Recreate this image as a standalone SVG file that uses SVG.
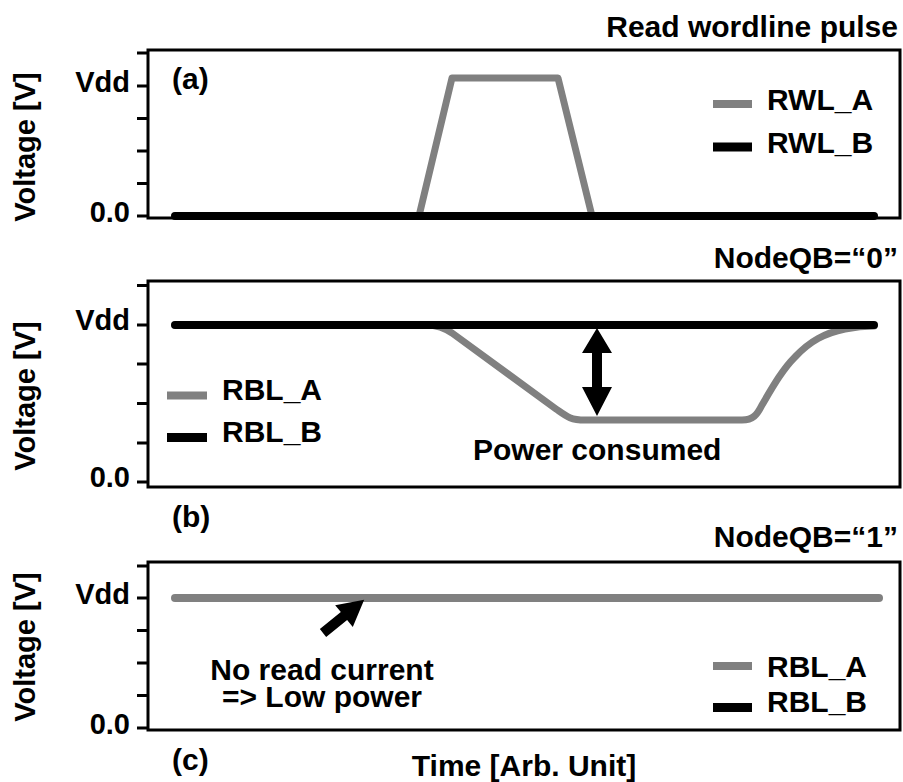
<svg xmlns="http://www.w3.org/2000/svg" width="903" height="782" viewBox="0 0 903 782">
  <style>
    text { font-family: "Liberation Sans", Arial, sans-serif; font-weight: bold; font-size: 30px; fill: #000; }
    .ylab { font-size: 29px; }
    .tick { font-size: 29px; text-anchor: end; }
    .title { text-anchor: end; }
    .frame { fill: none; stroke: #000; stroke-width: 3; }
    .ticks { stroke: #000; stroke-width: 3; fill: none; }
    .sigA { fill: none; stroke: #808080; stroke-width: 7; stroke-linecap: round; stroke-linejoin: round; }
    .sigB { fill: none; stroke: #000; stroke-width: 8; stroke-linecap: round; stroke-linejoin: round; }
    .legA { stroke: #808080; stroke-width: 8; }
    .legB { stroke: #000; stroke-width: 9; }
  </style>

  <!-- Panel (a): read wordline pulse -->
  <g id="panel-a">
    <text class="title" x="898" y="37">Read wordline pulse</text>
    <rect class="frame" x="148" y="50" width="752" height="168"/>
    <path class="ticks" d="M137,53H148M137,86H148M137,118.5H148M137,151H148M137,183.5H148M137,216H148"/>
    <text class="tick" x="130" y="92">Vdd</text>
    <text class="tick" x="130" y="222">0.0</text>
    <text class="ylab" transform="translate(35,147) rotate(-90)" text-anchor="middle">Voltage [V]</text>
    <text x="172" y="89">(a)</text>
    <path class="sigA" d="M175,216 L419,216 L452,78 L558,78 L592,216 L874,216"/>
    <path class="sigB" d="M175,216 L874,216"/>
    <line class="legA" x1="713" y1="104" x2="752" y2="104"/>
    <text x="767" y="110">RWL_A</text>
    <line class="legB" x1="713" y1="147" x2="752" y2="147"/>
    <text x="767" y="153">RWL_B</text>
  </g>

  <!-- Panel (b): NodeQB = 0, bitline discharges -->
  <g id="panel-b">
    <text class="title" x="898" y="268">NodeQB=“0”</text>
    <rect class="frame" x="148" y="281" width="752" height="206"/>
    <path class="ticks" d="M137,285.5H148M137,325H148M137,364H148M137,403.5H148M137,443H148M137,482H148"/>
    <text class="tick" x="130" y="330">Vdd</text>
    <text class="tick" x="130" y="487">0.0</text>
    <text class="ylab" transform="translate(35,396) rotate(-90)" text-anchor="middle">Voltage [V]</text>
    <text x="172" y="527">(b)</text>
    <path class="sigA" d="M175,325 L425,325 C438,325 444,328 452,333 L556,409 C566,416 570,420 585,420 L742,420 C753,420 757,415 762,405 C772,388 782,370 795,357 C810,341 825,333 845,329 C855,327 865,326 874,326"/>
    <path class="sigB" d="M175,325 L874,325"/>
    <line class="legA" x1="167" y1="395.5" x2="207" y2="395.5"/>
    <text x="222" y="400">RBL_A</text>
    <line class="legB" x1="167" y1="437.5" x2="207" y2="437.5"/>
    <text x="222" y="442">RBL_B</text>
    <text x="473" y="460">Power consumed</text>
  </g>

  <!-- Panel (c): NodeQB = 1, bitline stays high -->
  <g id="panel-c">
    <text class="title" x="898" y="547">NodeQB=“1”</text>
    <rect class="frame" x="148" y="562" width="752" height="168"/>
    <path class="ticks" d="M137,566H148M137,598H148M137,630.5H148M137,663H148M137,695.5H148M137,728H148"/>
    <text class="tick" x="130" y="604">Vdd</text>
    <text class="tick" x="130" y="734">0.0</text>
    <text class="ylab" transform="translate(35,647) rotate(-90)" text-anchor="middle">Voltage [V]</text>
    <text x="172" y="770">(c)</text>
    <!-- RBL_B sits exactly under RBL_A here -->
    <path class="sigB" d="M176,598 L878,598" style="stroke-width:4"/>
    <path class="sigA" d="M175,598 L879,598" style="stroke-width:8"/>
    <line class="legA" x1="713" y1="666" x2="752" y2="666"/>
    <text x="767" y="677">RBL_A</text>
    <line class="legB" x1="713" y1="707.5" x2="752" y2="707.5"/>
    <text x="767" y="712">RBL_B</text>
    <text text-anchor="middle"><tspan x="322" y="680">No read current</tspan><tspan x="322" y="707">=&gt; Low power</tspan></text>
  </g>

  <text id="x-axis-label" x="524" y="776" text-anchor="middle">Time [Arb. Unit]</text>

  <!-- Annotation arrows -->
  <g id="connectors">
    <polygon id="swing-arrow" points="597,328 612,353 602,353 602,387 612,387 597,416 582,387 592,387 592,353 582,353"/>
    <polygon id="no-current-arrow" transform="translate(323,633) rotate(-39)" points="0,-5 27,-5 27,-14 53,0 27,14 27,5 0,5"/>
  </g>
</svg>
